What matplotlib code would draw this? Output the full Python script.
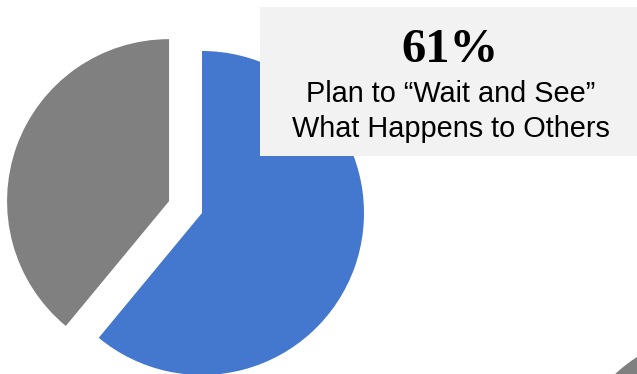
import matplotlib
matplotlib.use('Agg')
import matplotlib.pyplot as plt
from matplotlib.patches import Rectangle, Circle

# Survey answer shares
labels = ['Wait and see', 'Other']
shares = [61, 39]
slice_colors = ['#4478CE', '#808080']
headline = '61%'
caption_lines = ['Plan to \u201cWait and See\u201d', 'What Happens to Others']

W, H = 637, 374
fig = plt.figure(figsize=(W / 100, H / 100), dpi=100)
ax = fig.add_axes([0, 0, 1, 1])

# Pie in pixel units, grey slice pulled out from the centre
# (explode is in data units here since center/radius are in pixels)
ax.pie(shares, colors=slice_colors, startangle=90, counterclock=False,
       center=(202, H - 213), radius=162, explode=[0, 35],
       wedgeprops=dict(linewidth=0))

# Edge of the next pie peeking in at the bottom right
ax.add_patch(Circle((725, H - 493), 162, color='#808080', lw=0))

# Callout box
ax.add_patch(Rectangle((260, H - 156), 400, 149, facecolor='#F2F2F2',
                       edgecolor='none', zorder=3))
ax.text(450, H - 62, headline, ha='center', va='baseline', fontsize=35,
        fontweight='bold', family='Liberation Serif', zorder=4)
ax.text(451, H - 102, caption_lines[0], ha='center', va='baseline',
        fontsize=20.8, family='Liberation Sans', zorder=4)
ax.text(451, H - 137, caption_lines[1], ha='center', va='baseline',
        fontsize=20.8, family='Liberation Sans', zorder=4)

ax.set_xlim(0, W)
ax.set_ylim(0, H)
ax.set_aspect('auto')
ax.axis('off')

fig.savefig('out.png', dpi=100)
